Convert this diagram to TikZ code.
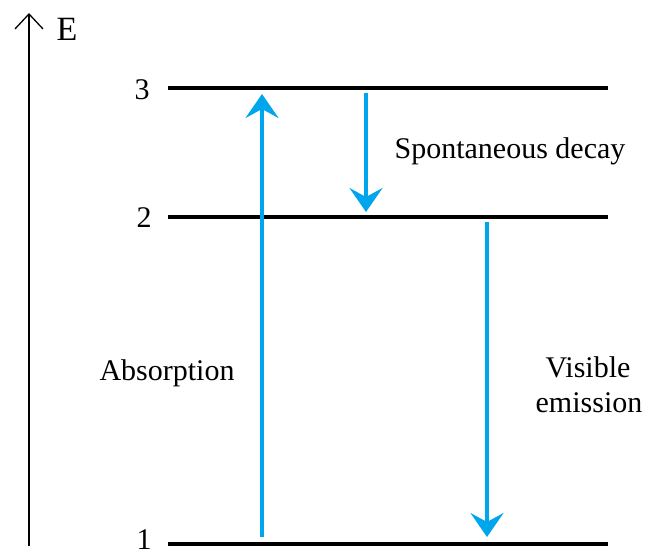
\documentclass[tikz,border=0pt]{standalone}
\usepackage{fontspec}
\setmainfont{Liberation Serif}
\usetikzlibrary{arrows.meta}
\definecolor{trblue}{RGB}{0,166,237}
\tikzset{
  level/.style={line width=3.5pt, black},
  trans/.style={line width=3.6pt, trblue, -{Stealth[length=24pt,width=33pt,inset=9pt]}},
  axis/.style={line width=1.3pt, black, -{Straight Barb[length=15pt,width=28pt,line width=1.3pt]}},
  lbl/.style={font=\fontsize{30}{34}\selectfont, inner sep=0pt, anchor=base},
  num/.style={font=\fontsize{30}{34}\selectfont, inner sep=0pt, anchor=base},
}
\begin{document}
\begin{tikzpicture}[x=1pt,y=-1pt]
\useasboundingbox (0,0) rectangle (645,552);
% axis
\coordinate (axb) at (29,546);
\coordinate (axt) at (29,13);
\draw[axis] (axb) -- (axt);
\node[lbl, font=\fontsize{34}{38}\selectfont] (E) at (67,40) {E};
% levels
\coordinate (l3a) at (168,88);  \coordinate (l3b) at (608,88);
\coordinate (l2a) at (168,217); \coordinate (l2b) at (608,217);
\coordinate (l1a) at (168,544); \coordinate (l1b) at (608,544);
\draw[level] (l3a) -- (l3b);
\draw[level] (l2a) -- (l2b);
\draw[level] (l1a) -- (l1b);
\node[num] (n3) at (142,99) {3};
\node[num] (n2) at (144,227) {2};
\node[num] (n1) at (144,549) {1};
% transitions
\coordinate (abs0) at (262,537); \coordinate (abs1) at (262,94);
\coordinate (sp0) at (366,93);   \coordinate (sp1) at (366,212);
\coordinate (ve0) at (487,222);  \coordinate (ve1) at (487,537);
\draw[trans] (abs0) -- (abs1);
\draw[trans] (sp0) -- (sp1);
\draw[trans] (ve0) -- (ve1);
% labels
\node[lbl] (tsp) at (510,158) {Spontaneous decay};
\node[lbl] (tabs) at (167,380) {Absorption};
\node[lbl] (tvis) at (588,377) {Visible};
\node[lbl] (tem) at (589,412) {emission};
\end{tikzpicture}
\end{document}
